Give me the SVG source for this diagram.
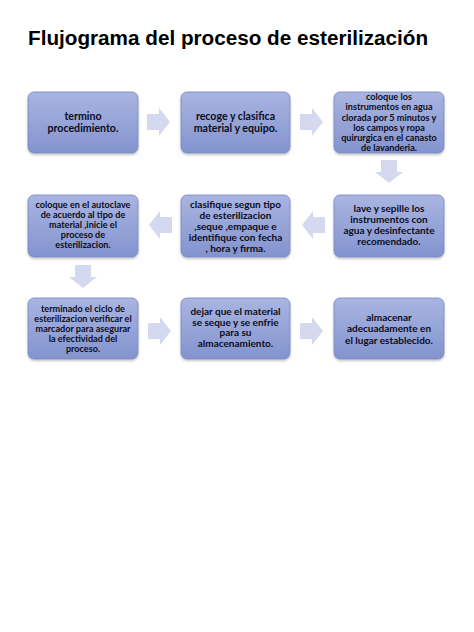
<svg xmlns="http://www.w3.org/2000/svg" width="474" height="632" viewBox="0 0 474 632">
<defs>
<linearGradient id="bg" x1="0" y1="0" x2="0" y2="1">
<stop offset="0" stop-color="#a9b5e1"/>
<stop offset="1" stop-color="#8393ce"/>
</linearGradient>
<filter id="sh" x="-10%" y="-10%" width="120%" height="130%">
<feDropShadow dx="0" dy="1.5" stdDeviation="1.2" flood-color="#000" flood-opacity="0.25"/>
</filter>
<path id="ar" d="M0,-8 H12 V-14 L23,0 L12,14 V8 H0 Z"/>
</defs>
<style>
.box{fill:url(#bg);stroke:#7686c2;stroke-width:0.8;filter:url(#sh)}
.t{font-family:Lato,"Open Sans",sans-serif;font-weight:bold;fill:#0b0c20;text-anchor:middle}
.s10{font-size:10.6px}
.s95{font-size:10px}
.s85{font-size:9.1px}
.arrow{fill:#d5d9ef}
.title{font-family:"Liberation Sans",Arial,sans-serif;font-weight:bold;font-size:20.7px;fill:#000}
</style>
<rect width="474" height="632" fill="#fff"/>
<text class="title" x="28" y="45">Flujograma del proceso de esterilización</text>

<g id="connectors">
<use href="#ar" class="arrow" transform="translate(147,122)"/>
<use href="#ar" class="arrow" transform="translate(300,122)"/>
<use href="#ar" class="arrow" transform="translate(389,160) rotate(90)"/>
<use href="#ar" class="arrow" transform="translate(325,225) rotate(180)"/>
<use href="#ar" class="arrow" transform="translate(172,225) rotate(180)"/>
<use href="#ar" class="arrow" transform="translate(83,265) rotate(90)"/>
<use href="#ar" class="arrow" transform="translate(148,331)"/>
<use href="#ar" class="arrow" transform="translate(300,331)"/>
</g>

<g id="n1">
<rect class="box" x="28" y="92" width="110" height="61" rx="6"/>
<text class="t s10" x="83" y="120">termino</text>
<text class="t s10" x="83" y="131.5">procedimiento.</text>
</g>
<g id="n2">
<rect class="box" x="181" y="92" width="109" height="61" rx="6"/>
<text class="t s10" x="235.5" y="120">recoge y clasifica</text>
<text class="t s10" x="235.5" y="131.5">material y equipo.</text>
</g>
<g id="n3">
<rect class="box" x="334" y="92" width="110" height="61" rx="6"/>
<text class="t s85" x="389" y="100">coloque los</text>
<text class="t s85" x="389" y="110">instrumentos en agua</text>
<text class="t s85" x="389" y="120.5">clorada por 5 minutos y</text>
<text class="t s85" x="389" y="130.5">los campos y ropa</text>
<text class="t s85" x="389" y="140.5">quirurgica en el canasto</text>
<text class="t s85" x="389" y="150.5">de lavanderia.</text>
</g>
<g id="n4">
<rect class="box" x="334" y="195" width="110" height="62" rx="6"/>
<text class="t s95" x="389" y="211.5">lave y sepille los</text>
<text class="t s95" x="389" y="222.5">instrumentos con</text>
<text class="t s95" x="389" y="233.5">agua y desinfectante</text>
<text class="t s95" x="389" y="244.5">recomendado.</text>
</g>
<g id="n5">
<rect class="box" x="181" y="195" width="109" height="62" rx="6"/>
<text class="t s95" x="235.5" y="207.5">clasifique segun tipo</text>
<text class="t s95" x="235.5" y="218.5">de esterilizacion</text>
<text class="t s95" x="235.5" y="229.5">,seque ,empaque e</text>
<text class="t s95" x="235.5" y="240.5">identifique con fecha</text>
<text class="t s95" x="235.5" y="251.5">, hora y firma.</text>
</g>
<g id="n6">
<rect class="box" x="28" y="195" width="110" height="62" rx="6"/>
<text class="t s85" x="83" y="208">coloque en el autoclave</text>
<text class="t s85" x="83" y="218">de acuerdo al tipo de</text>
<text class="t s85" x="83" y="228">material ,inicie el</text>
<text class="t s85" x="83" y="238">proceso de</text>
<text class="t s85" x="83" y="248">esterilizacion.</text>
</g>
<g id="n7">
<rect class="box" x="28" y="298" width="110" height="61" rx="6"/>
<text class="t s85" x="83" y="311.5">terminado el ciclo de</text>
<text class="t s85" x="83" y="321.5">esterilizacion verificar el</text>
<text class="t s85" x="83" y="331.5">marcador para asegurar</text>
<text class="t s85" x="83" y="341.5">la efectividad del</text>
<text class="t s85" x="83" y="351.5">proceso.</text>
</g>
<g id="n8">
<rect class="box" x="181" y="298" width="109" height="61" rx="6"/>
<text class="t s95" x="235.5" y="315">dejar que el material</text>
<text class="t s95" x="235.5" y="325.5">se seque y se enfrie</text>
<text class="t s95" x="235.5" y="336">para su</text>
<text class="t s95" x="235.5" y="347">almacenamiento.</text>
</g>
<g id="n9">
<rect class="box" x="334" y="298" width="110" height="61" rx="6"/>
<text class="t s95" x="389" y="320.5">almacenar</text>
<text class="t s95" x="389" y="332">adecuadamente en</text>
<text class="t s95" x="389" y="343.5">el lugar establecido.</text>
</g>
</svg>
